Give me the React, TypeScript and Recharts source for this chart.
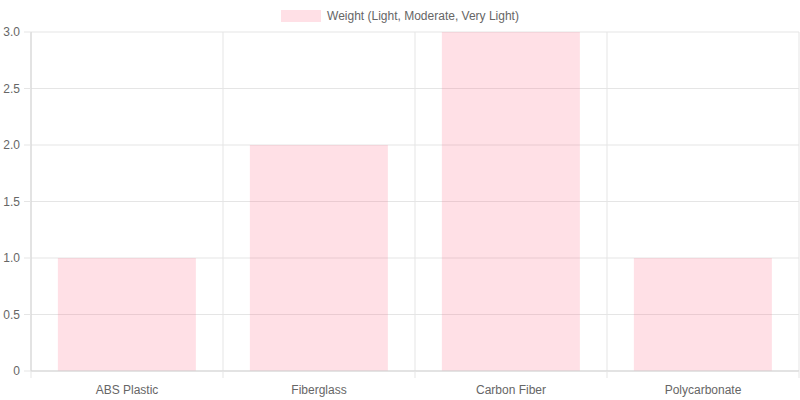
import React from 'react';
import { BarChart, Bar, XAxis, YAxis, CartesianGrid, Legend } from 'recharts';

const materials = ['ABS Plastic', 'Fiberglass', 'Carbon Fiber', 'Polycarbonate'];
const weights = [1, 2, 3, 1];
const yTicks = [0, 0.5, 1, 1.5, 2, 2.5, 3];

const seriesName = 'Weight (Light, Moderate, Very Light)';
const barColor = 'rgba(255, 99, 132, 0.2)';
const gridColor = '#e5e5e5';
const axisColor = '#d4d4d4';
const textColor = '#666';
const font = '"Liberation Sans", Arial, Helvetica, sans-serif';

const data = materials.map((name, i) => ({ name, weight: weights[i] }));

const LegendBox = () => (
  <div
    style={{
      height: 32,
      display: 'flex',
      justifyContent: 'center',
      alignItems: 'flex-start',
      fontFamily: font,
      fontSize: 12,
      color: textColor,
    }}
  >
    <div style={{ display: 'flex', alignItems: 'center', marginTop: 10, height: 12 }}>
      <span style={{ display: 'inline-block', width: 40, height: 12, background: barColor, marginRight: 6 }} />
      <span style={{ lineHeight: '12px' }}>{seriesName}</span>
    </div>
  </div>
);

const TICK_SIZE = 7;
const TICK_MARGIN = 7;

// category labels plus chart.js-style tick marks on the band edges
const CategoryTick = (props: any) => {
  const { x, y, payload, index, visibleTicksCount } = props;
  const half = payload.offset || 0;
  const axisY = y - TICK_SIZE - TICK_MARGIN;
  return (
    <g>
      <line x1={x - half} x2={x - half} y1={axisY} y2={axisY + TICK_SIZE} stroke={gridColor} />
      {index === visibleTicksCount - 1 && (
        <line x1={x + half} x2={x + half} y1={axisY} y2={axisY + TICK_SIZE} stroke={gridColor} />
      )}
      <text x={x} y={y} dy="0.71em" textAnchor="middle" fill={textColor} fontSize={12} fontFamily={font}>
        {payload.value}
      </text>
    </g>
  );
};

const App = () => {
  return (
    <div style={{ position: 'absolute', left: 0, top: 0, width: 800, height: 400, fontFamily: font }}>
      <BarChart
        width={800}
        height={400}
        data={data}
        margin={{ top: 0, right: 1, bottom: 0, left: 0 }}
        barCategoryGap="14%"
      >
        <Legend
          verticalAlign="top"
          align="center"
          content={() => <LegendBox />}
          wrapperStyle={{ left: 0, top: 0, width: 800 }}
        />
        <CartesianGrid
          stroke={gridColor}
          verticalCoordinatesGenerator={({ offset }: any) =>
            materials.map((_, i) => offset.left + (i * offset.width) / materials.length).concat(offset.left + offset.width)
          }
        />
        <XAxis
          dataKey="name"
          height={29}
          axisLine={{ stroke: axisColor }}
          tickLine={false}
          tickSize={TICK_SIZE}
          tickMargin={TICK_MARGIN}
          interval={0}
          tick={<CategoryTick />}
        />
        <YAxis
          width={31}
          domain={[0, 3]}
          ticks={yTicks}
          interval={0}
          axisLine={{ stroke: axisColor }}
          tickLine={{ stroke: gridColor }}
          tickSize={7}
          tickMargin={4}
          tick={{ fill: textColor, fontSize: 12, fontFamily: font }}
          tickFormatter={(v: number) => (v === 0 ? '0' : v.toFixed(1))}
        />
        <Bar dataKey="weight" name={seriesName} fill={barColor} isAnimationActive={false} />
      </BarChart>
    </div>
  );
};

export default App;
